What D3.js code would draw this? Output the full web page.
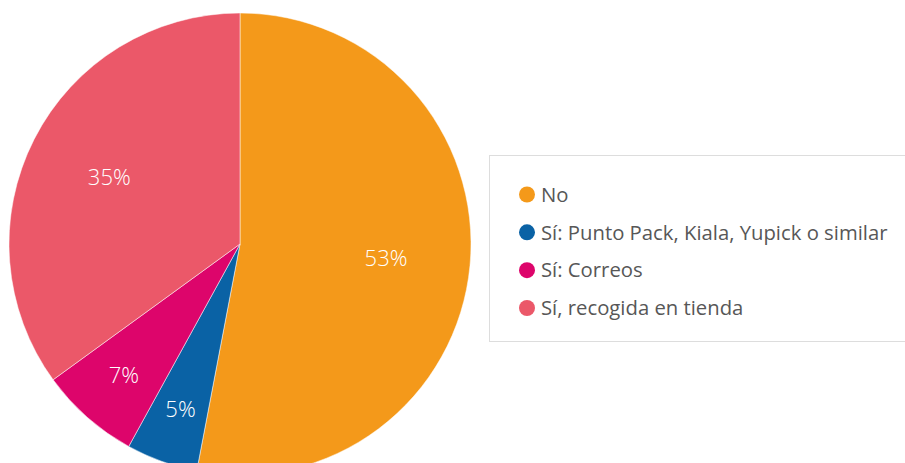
<!DOCTYPE html>
<head>
  <meta charset="utf-8">
  <script src="https://d3js.org/d3.v7.min.js"></script>
  <style>
  body { margin: 0; background: #fff; }
  .label { fill: #fff; font-family: "Open Sans", sans-serif; font-weight: 300; font-size: 22px; }
  .legend text { fill: #575757; font-family: "Open Sans", sans-serif; font-size: 20.3px; }
  </style>
</head>

<body>
  <script>
    // data
    var categories = ["No", "Sí: Punto Pack, Kiala, Yupick o similar", "Sí: Correos", "Sí, recogida en tienda"];
    var values = [53, 5, 7, 35];
    var colors = ["#F4991A", "#0A62A5", "#DD056B", "#EB5869"];

    var width = 905, height = 463;
    var cx = 240, cy = 244, radius = 231;

    var dataset = categories.map(function(c, i) { return {name: c, value: values[i]}; });

    var svg = d3.select("body")
        .append("svg")
        .attr("width", width)
        .attr("height", height);

    var pie = d3.pie()
        .sort(null)
        .value(function(d) { return d.value; });

    var arc = d3.arc().innerRadius(0).outerRadius(radius);

    var color = d3.scaleOrdinal().domain(categories).range(colors);

    var g = svg.append("g")
        .attr("transform", "translate(" + cx + "," + cy + ")");

    var slices = pie(dataset);

    g.selectAll("path")
      .data(slices)
      .enter().append("path")
      .attr("d", arc)
      .attr("fill", function(d) { return color(d.data.name); })
      .attr("stroke", "#fff")
      .attr("stroke-width", 0.5);

    // labels: small slices sit further out
    g.selectAll("text.label")
      .data(slices)
      .enter().append("text")
      .attr("class", "label")
      .attr("text-anchor", "middle")
      .attr("dy", "0.35em")
      .attr("transform", function(d) {
        var r = radius * (d.data.value < 10 ? 0.76 : 0.635);
        var a = (d.startAngle + d.endAngle) / 2;
        return "translate(" + (Math.sin(a) * r) + "," + (-Math.cos(a) * r) + ")";
      })
      .text(function(d) { return d.data.value + "%"; });

    // legend
    var legend = svg.append("g").attr("class", "legend");

    legend.append("rect")
      .attr("x", 489.5)
      .attr("y", 155.5)
      .attr("width", 430)
      .attr("height", 186)
      .attr("fill", "#fff")
      .attr("stroke", "#ddd");

    var rowY = d3.scalePoint().domain(categories).range([194.5, 308]);

    var items = legend.selectAll("g.item")
      .data(categories)
      .enter().append("g")
      .attr("class", "item")
      .attr("transform", function(d) { return "translate(527," + rowY(d) + ")"; });

    items.append("circle")
      .attr("r", 8)
      .attr("fill", function(d) { return color(d); });

    items.append("text")
      .attr("x", 14)
      .attr("dy", "0.36em")
      .text(function(d) { return d; });
  </script>
</body>
